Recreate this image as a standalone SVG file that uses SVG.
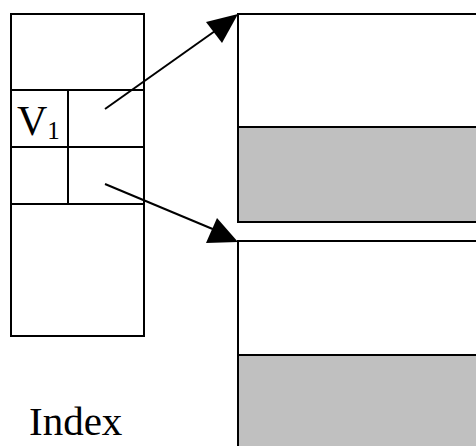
<svg xmlns="http://www.w3.org/2000/svg" width="476" height="446" viewBox="0 0 476 446">
<style>
.box{fill:#fff;stroke:#000;stroke-width:2}
.gray{fill:#c0c0c0;stroke:#000;stroke-width:2}
.ln{stroke:#000;stroke-width:2;fill:none}
.t{font-family:"Liberation Serif",serif;fill:#000}
</style>
<rect width="476" height="446" fill="#fff"/>
<g id="index">
<rect class="box" x="11" y="14" width="133" height="322"/>
<line class="ln" x1="11" y1="90" x2="144" y2="90"/>
<line class="ln" x1="11" y1="147" x2="144" y2="147"/>
<line class="ln" x1="11" y1="204" x2="144" y2="204"/>
<line class="ln" x1="68" y1="90" x2="68" y2="204"/>
<text class="t" x="17" y="135" font-size="42">V<tspan font-size="25" dy="4">1</tspan></text>
</g>
<g id="page1">
<rect class="box" x="238" y="14" width="250" height="208"/>
<rect class="gray" x="238" y="127" width="250" height="95"/>
</g>
<g id="page2">
<rect class="box" x="238" y="241" width="250" height="220"/>
<rect class="gray" x="238" y="355" width="250" height="106"/>
</g>
<g id="connectors">
<line class="ln" x1="105" y1="109" x2="215" y2="31"/>
<polygon points="238,14 206,22 222,43" fill="#000"/>
<line class="ln" x1="105" y1="184" x2="215" y2="230"/>
<polygon points="238,242 206,243 217,218" fill="#000"/>
</g>
<text class="t" x="29" y="435" font-size="41">Index</text>
</svg>
